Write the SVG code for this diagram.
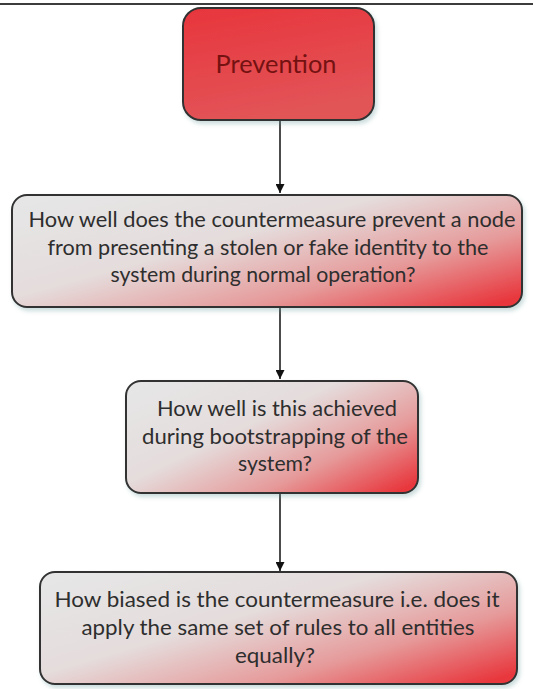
<svg xmlns="http://www.w3.org/2000/svg" width="533" height="689" viewBox="0 0 533 689">
  <defs>
    <linearGradient id="redFill" x1="0" y1="0" x2="0.3" y2="1">
      <stop offset="0" stop-color="#e8353d"/>
      <stop offset="1" stop-color="#e25457"/>
    </linearGradient>
    <linearGradient id="questionFill" x1="0" y1="0.1" x2="1" y2="0.9">
      <stop offset="0" stop-color="#e6e6e6"/>
      <stop offset="0.4" stop-color="#e5dcdc"/>
      <stop offset="0.72" stop-color="#e69a9a"/>
      <stop offset="1" stop-color="#e8383e"/>
    </linearGradient>
    <filter id="shadow" x="-5%" y="-5%" width="112%" height="115%">
      <feDropShadow dx="2" dy="3" stdDeviation="2" flood-color="#6a9a9a" flood-opacity="0.35"/>
    </filter>
    <marker id="arrow" viewBox="0 0 10 10" refX="10" refY="5" markerWidth="9" markerHeight="9" markerUnits="userSpaceOnUse" orient="auto">
      <path d="M0,0 L10,5 L0,10 Z" fill="#111"/>
    </marker>
  </defs>
  <style>
    .box { stroke: #333; stroke-width: 2; filter: url(#shadow); }
    .q { fill: url(#questionFill); }
    .label { font-family: Lato, "Liberation Sans", sans-serif; font-size: 21.5px; fill: #2e2e2e; text-anchor: middle; }
    .title { font-family: Lato, "Liberation Sans", sans-serif; font-size: 25px; fill: #741212; text-anchor: middle; }
    .edge { stroke: #111; stroke-width: 1.5; fill: none; marker-end: url(#arrow); }
  </style>

  <rect width="533" height="689" fill="#ffffff"/>
  <line x1="0" y1="4" x2="533" y2="4" stroke="#3c3c3c" stroke-width="2"/>

  <g id="connectors">
    <line class="edge" x1="280" y1="120" x2="280" y2="193"/>
    <line class="edge" x1="280" y1="308" x2="280" y2="379"/>
    <line class="edge" x1="280" y1="494" x2="280" y2="571"/>
  </g>

  <g id="prevention">
    <rect class="box" x="183" y="8" width="191" height="112" rx="18" fill="url(#redFill)" stroke="#5a2a2a"/>
    <text class="title" x="276" y="73" textLength="121" lengthAdjust="spacingAndGlyphs">Prevention</text>
  </g>

  <g id="normal-operation">
    <rect class="box q" x="12" y="195" width="510" height="112" rx="15"/>
    <text class="label" x="272" y="227" textLength="487" lengthAdjust="spacingAndGlyphs">How well does the countermeasure prevent a node</text>
    <text class="label" x="268" y="255" textLength="441" lengthAdjust="spacingAndGlyphs">from presenting a stolen or fake identity to the</text>
    <text class="label" x="263" y="282" textLength="305" lengthAdjust="spacingAndGlyphs">system during normal operation?</text>
  </g>

  <g id="bootstrapping">
    <rect class="box q" x="126" y="381" width="292" height="112" rx="15"/>
    <text class="label" x="277" y="416" textLength="240" lengthAdjust="spacingAndGlyphs">How well is this achieved</text>
    <text class="label" x="275" y="444" textLength="266" lengthAdjust="spacingAndGlyphs">during bootstrapping of the</text>
    <text class="label" x="275" y="471" textLength="74" lengthAdjust="spacingAndGlyphs">system?</text>
  </g>

  <g id="bias">
    <rect class="box q" x="40" y="572" width="477" height="112" rx="15"/>
    <text class="label" x="277" y="607" textLength="445" lengthAdjust="spacingAndGlyphs">How biased is the countermeasure i.e. does it</text>
    <text class="label" x="278" y="635" textLength="393" lengthAdjust="spacingAndGlyphs">apply the same set of rules to all entities</text>
    <text class="label" x="275" y="663" textLength="80" lengthAdjust="spacingAndGlyphs">equally?</text>
  </g>
</svg>
